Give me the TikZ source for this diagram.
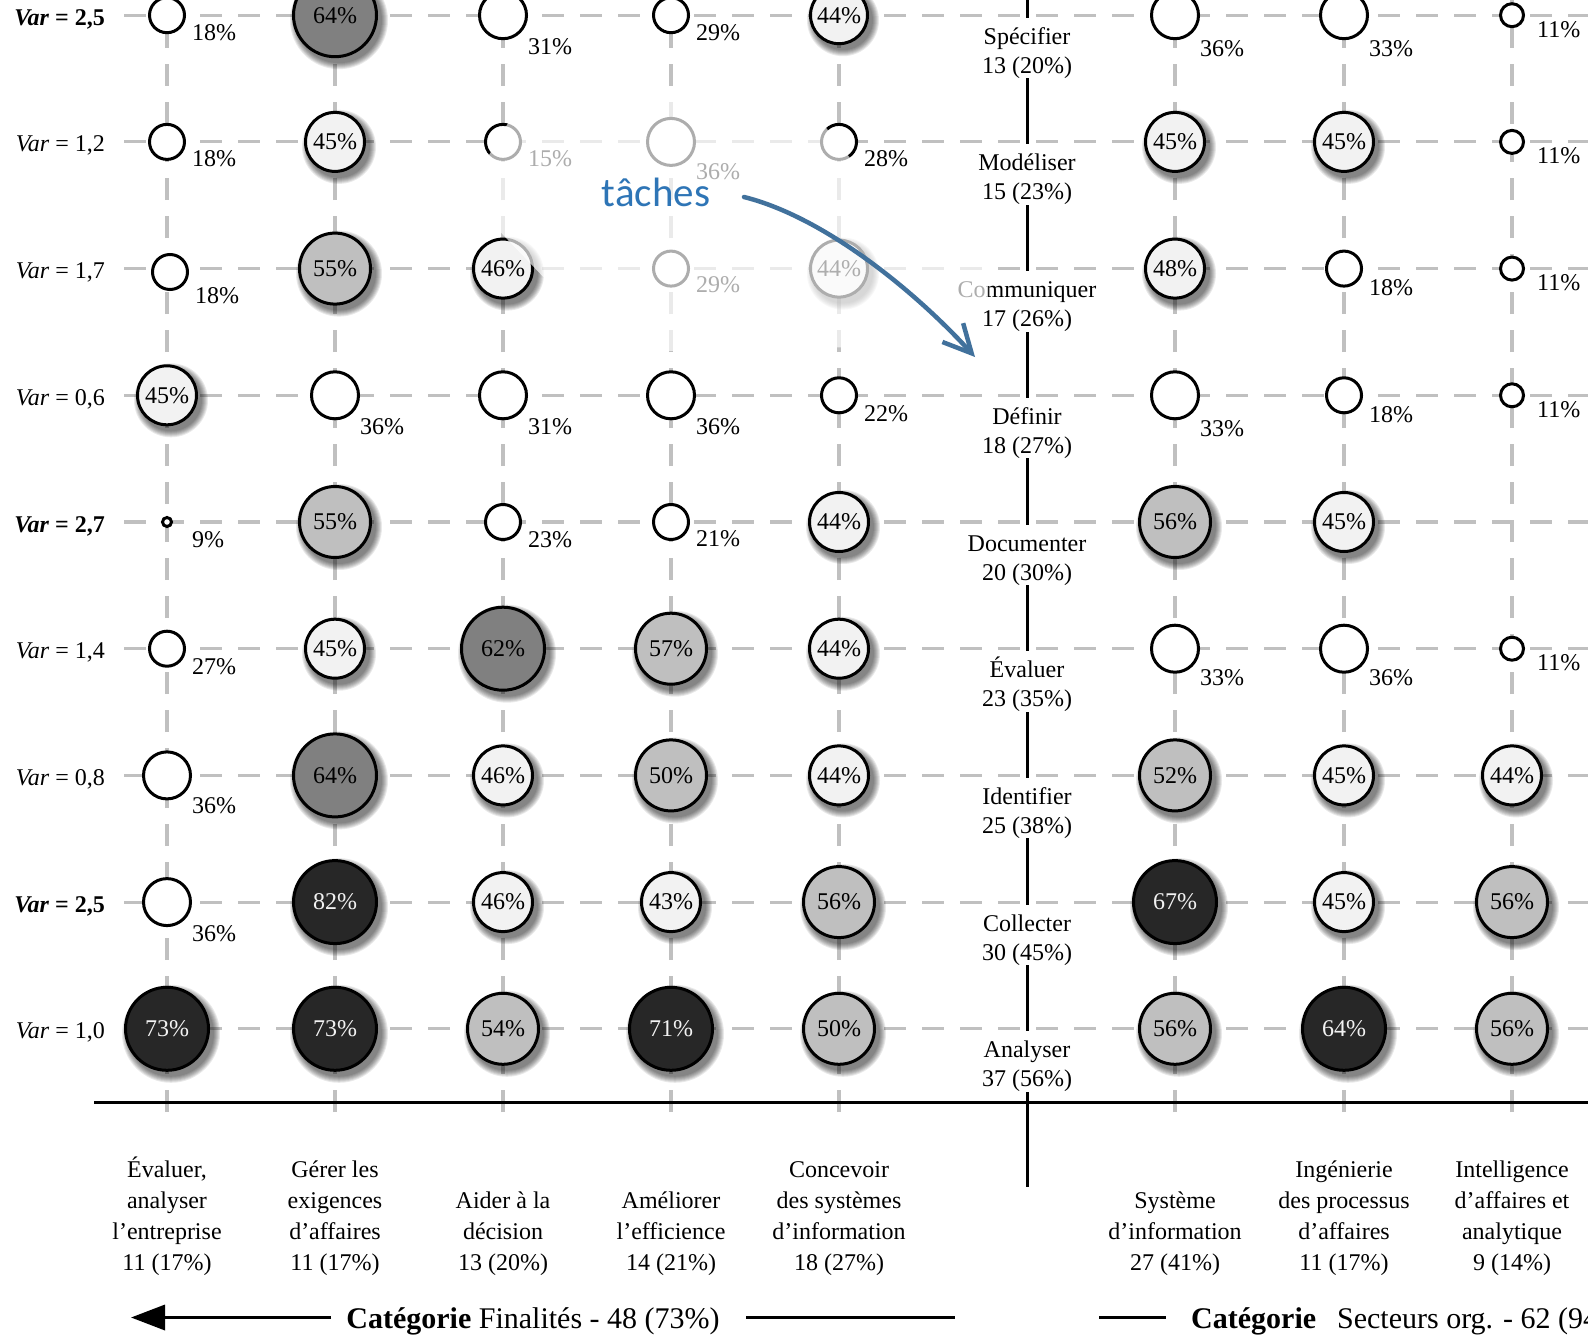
\documentclass[tikz,border=0pt]{standalone}
\usepackage{fontspec}
\setmainfont{Liberation Serif}
\newfontfamily\calibfont{Carlito}
\usetikzlibrary{arrows.meta,calc}
\definecolor{lightf}{HTML}{F2F2F2}
\definecolor{medf}{HTML}{BFBFBF}
\definecolor{darkf}{HTML}{808080}
\definecolor{blackf}{HTML}{272727}
\definecolor{gridc}{HTML}{C0C0C0}
\definecolor{tblue}{HTML}{2E75B6}
\definecolor{ablue}{HTML}{41719C}
\tikzset{
  bub/.style={circle, draw=black, line width=3pt, inner sep=0pt, font=\fontsize{24}{29}\selectfont},
  lbl/.style={inner sep=0pt, font=\fontsize{24}{29}\selectfont},
  catlbl/.style={inner sep=0pt, font=\fontsize{30}{36}\selectfont},
  gridline/.style={draw=gridc, line width=3.2pt, dash pattern=on 22pt off 16pt},
  axisline/.style={line width=3pt, black},
  catline/.style={line width=3.5pt, black},
  shadowfill/.style={black, opacity=0.085},
}
% circle with its label inside and a soft shadow
\newcommand{\bubin}[7]{%
  \foreach \k in {1,...,7}{\fill[shadowfill] ({#2+4},{#3+5}) circle[radius={(#4+\k-1)*1pt}];}
  \node[bub, minimum size={(2*#4-3)*1pt}, fill=#5, text=#6] (#1) at (#2,#3) {#7};
}
% plain white circle with its label outside, lower right
\newcommand{\bubout}[6]{%
  \node[bub, minimum size={(2*#4-3)*1pt}, fill=white] (#1) at (#2,#3) {};
  \node[lbl, anchor=base west] (#1-l) at ({#2+25},{#3+#6+8}) {#5};
}
% task label on the central axis
\newcommand{\tasklab}[4]{%
  \fill[white] (942,{#2+2.5}) rectangle (1112,{#2+63});
  \node[lbl, anchor=base] (#1-a) at (1027,{#2+29}) {#3};
  \node[lbl, anchor=base] (#1-b) at (1027,{#2+58}) {#4};
}
\newcommand{\rowlab}[3]{\node[lbl, anchor=base east] (#1) at (105,{#2+10}) {#3};}
\newcommand{\bl}[4]{\node[lbl, anchor=base] (#1) at (#2,#3) {#4};}
\begin{document}
\begin{tikzpicture}[x=1pt,y=-1pt]
\useasboundingbox (0,0) rectangle (1588,1335);
\clip (0,0) rectangle (1588,1335);
\fill[white] (0,0) rectangle (1588,1335);

% grid
\foreach \cx in {167,335,503,671,839,1175,1344,1512}
  \draw[gridline] (\cx,1112) -- (\cx,0);
\foreach \ry in {15.2,141.9,268.6,395.3,522,648.7,775.4,902.1,1028.8}
  \draw[gridline] (124,\ry) -- (1600,\ry);

% axes
\draw[axisline] (94,1102.5) -- (1600,1102.5);
\draw[axisline] (1027,0) -- (1027,1187);

% task labels
\tasklab{t1}{15.2}{Spécifier}{13 (20\%)}
\tasklab{t2}{141.9}{Modéliser}{15 (23\%)}
\tasklab{t3}{268.6}{Communiquer}{17 (26\%)}
\tasklab{t4}{395.3}{Définir}{18 (27\%)}
\tasklab{t5}{522}{Documenter}{20 (30\%)}
\tasklab{t6}{648.7}{Évaluer}{23 (35\%)}
\tasklab{t7}{775.4}{Identifier}{25 (38\%)}
\tasklab{t8}{902.1}{Collecter}{30 (45\%)}
\tasklab{t9}{1028.8}{Analyser}{37 (56\%)}

% row 1
\bubout{a1}{167}{15.2}{19}{18\%}{17}
\bubin{a2}{335}{15.2}{43}{darkf}{black}{64\%}
\bubout{a3}{503}{15.2}{25}{31\%}{31}
\bubout{a4}{671}{15.2}{19}{29\%}{17}
\bubin{a5}{839}{15.2}{30}{lightf}{black}{44\%}
\bubout{a6}{1175}{15.2}{25}{36\%}{33}
\bubout{a7}{1344}{15.2}{25}{33\%}{33}
\bubout{a8}{1512}{15.2}{13}{11\%}{14}
% row 2
\bubout{b1}{167}{141.9}{19}{18\%}{17}
\bubin{b2}{335}{141.9}{31}{lightf}{black}{45\%}
\bubout{b3}{503}{141.9}{19}{15\%}{17}
\bubout{b4}{671}{141.9}{25}{36\%}{30}
\bubout{b5}{839}{141.9}{19}{28\%}{17}
\bubin{b6}{1175}{141.9}{31}{lightf}{black}{45\%}
\bubin{b7}{1344}{141.9}{31}{lightf}{black}{45\%}
\bubout{b8}{1512}{141.9}{13}{11\%}{14}
% row 3
\bubout{c1}{170}{272}{19}{18\%}{23}
\bubin{c2}{335}{268.6}{37}{medf}{black}{55\%}
\bubin{c3}{503}{268.6}{31}{lightf}{black}{46\%}
\bubout{c4}{671}{268.6}{19}{29\%}{16}
\bubin{c5}{839}{268.6}{30}{lightf}{black}{44\%}
\bubin{c6}{1175}{268.6}{31}{lightf}{black}{48\%}
\bubout{c7}{1344}{268.6}{19}{18\%}{19}
\bubout{c8}{1512}{268.6}{13}{11\%}{14}
% row 4
\bubin{d1}{167}{395.3}{31}{lightf}{black}{45\%}
\bubout{d2}{335}{395.3}{25}{36\%}{31}
\bubout{d3}{503}{395.3}{25}{31\%}{31}
\bubout{d4}{671}{395.3}{25}{36\%}{31}
\bubout{d5}{839}{395.3}{19}{22\%}{18}
\bubout{d6}{1175}{395.3}{25}{33\%}{33}
\bubout{d7}{1344}{395.3}{19}{18\%}{19}
\bubout{d8}{1512}{395.3}{13}{11\%}{14}
% row 5
\bubout{e1}{167}{522}{6}{9\%}{17}
\bubin{e2}{335}{522}{37}{medf}{black}{55\%}
\bubout{e3}{503}{522}{19}{23\%}{17}
\bubout{e4}{671}{522}{19}{21\%}{16}
\bubin{e5}{839}{522}{31}{lightf}{black}{44\%}
\bubin{e6}{1175}{522}{37}{medf}{black}{56\%}
\bubin{e7}{1344}{522}{31}{lightf}{black}{45\%}
% row 6
\bubout{f1}{167}{648.7}{19}{27\%}{18}
\bubin{f2}{335}{648.7}{31}{lightf}{black}{45\%}
\bubin{f3}{503}{648.7}{43}{darkf}{black}{62\%}
\bubin{f4}{671}{648.7}{37}{medf}{black}{57\%}
\bubin{f5}{839}{648.7}{31}{lightf}{black}{44\%}
\bubout{f6}{1175}{648.7}{25}{33\%}{29}
\bubout{f7}{1344}{648.7}{25}{36\%}{29}
\bubout{f8}{1512}{648.7}{13}{11\%}{14}
% row 7
\bubout{g1}{167}{775.4}{25}{36\%}{30}
\bubin{g2}{335}{775.4}{43}{darkf}{black}{64\%}
\bubin{g3}{503}{775.4}{31}{lightf}{black}{46\%}
\bubin{g4}{671}{775.4}{37}{medf}{black}{50\%}
\bubin{g5}{839}{775.4}{31}{lightf}{black}{44\%}
\bubin{g6}{1175}{775.4}{37}{medf}{black}{52\%}
\bubin{g7}{1344}{775.4}{31}{lightf}{black}{45\%}
\bubin{g8}{1512}{775.4}{31}{lightf}{black}{44\%}
% row 8
\bubout{h1}{167}{902.1}{25}{36\%}{31}
\bubin{h2}{335}{902.1}{43}{blackf}{lightf}{82\%}
\bubin{h3}{503}{902.1}{31}{lightf}{black}{46\%}
\bubin{h4}{671}{902.1}{31}{lightf}{black}{43\%}
\bubin{h5}{839}{902.1}{37}{medf}{black}{56\%}
\bubin{h6}{1175}{902.1}{43}{blackf}{lightf}{67\%}
\bubin{h7}{1344}{902.1}{31}{lightf}{black}{45\%}
\bubin{h8}{1512}{902.1}{37}{medf}{black}{56\%}
% row 9
\bubin{i1}{167}{1028.8}{43}{blackf}{lightf}{73\%}
\bubin{i2}{335}{1028.8}{43}{blackf}{lightf}{73\%}
\bubin{i3}{503}{1028.8}{37}{medf}{black}{54\%}
\bubin{i4}{671}{1028.8}{43}{blackf}{lightf}{71\%}
\bubin{i5}{839}{1028.8}{37}{medf}{black}{50\%}
\bubin{i6}{1175}{1028.8}{37}{medf}{black}{56\%}
\bubin{i7}{1344}{1028.8}{43}{blackf}{lightf}{64\%}
\bubin{i8}{1512}{1028.8}{37}{medf}{black}{56\%}

% row labels
\rowlab{v1}{15.2}{\textbf{\textit{Var} = 2,5}}
\rowlab{v2}{141.9}{\textit{Var} = 1,2}
\rowlab{v3}{268.6}{\textit{Var} = 1,7}
\rowlab{v4}{395.3}{\textit{Var} = 0,6}
\rowlab{v5}{522}{\textbf{\textit{Var} = 2,7}}
\rowlab{v6}{648.7}{\textit{Var} = 1,4}
\rowlab{v7}{775.4}{\textit{Var} = 0,8}
\rowlab{v8}{902.1}{\textbf{\textit{Var} = 2,5}}
\rowlab{v9}{1028.8}{\textit{Var} = 1,0}

% column labels
\bl{k1a}{167}{1177}{Évaluer,}
\bl{k1b}{167}{1208}{analyser}
\bl{k1c}{167}{1239}{l’entreprise}
\bl{k1d}{167}{1270}{11 (17\%)}
\bl{k2a}{335}{1177}{Gérer les}
\bl{k2b}{335}{1208}{exigences}
\bl{k2c}{335}{1239}{d’affaires}
\bl{k2d}{335}{1270}{11 (17\%)}
\bl{k3b}{503}{1208}{Aider à la}
\bl{k3c}{503}{1239}{décision}
\bl{k3d}{503}{1270}{13 (20\%)}
\bl{k4b}{671}{1208}{Améliorer}
\bl{k4c}{671}{1239}{l’efficience}
\bl{k4d}{671}{1270}{14 (21\%)}
\bl{k5a}{839}{1177}{Concevoir}
\bl{k5b}{839}{1208}{des systèmes}
\bl{k5c}{839}{1239}{d’information}
\bl{k5d}{839}{1270}{18 (27\%)}
\bl{k6b}{1175}{1208}{Système}
\bl{k6c}{1175}{1239}{d’information}
\bl{k6d}{1175}{1270}{27 (41\%)}
\bl{k7a}{1344}{1177}{Ingénierie}
\bl{k7b}{1344}{1208}{des processus}
\bl{k7c}{1344}{1239}{d’affaires}
\bl{k7d}{1344}{1270}{11 (17\%)}
\bl{k8a}{1512}{1177}{Intelligence}
\bl{k8b}{1512}{1208}{d’affaires et}
\bl{k8c}{1512}{1239}{analytique}
\bl{k8d}{1512}{1270}{9 (14\%)}

% categories
\node[catlbl, anchor=base] (catL) at (533,1328) {\textbf{Catégorie} Finalités - 48 (73\%)};
\coordinate (catLa) at (331,1317.5);
\coordinate (catLb) at (131,1317.5);
\coordinate (catLc) at (746,1317.5);
\coordinate (catLd) at (955,1317.5);
\draw[catline, -{Triangle[length=34pt,width=25pt]}] (catLa) -- (catLb);
\draw[catline] (catLc) -- (catLd);
\node[catlbl, anchor=base west] (catR) at (1191,1328) {\textbf{Catégorie}\hspace{0.45em} Secteurs org. - 62 (94\%)};
\coordinate (catRa) at (1099,1317.5);
\coordinate (catRb) at (1166,1317.5);
\draw[catline] (catRa) -- (catRb);

% faded overlay
\fill[white, opacity=0.68] (465,195) -- (525,95) -- (800,95) -- (858,168) -- (988,262) -- (988,298) -- (955,345) -- (615,352) -- cycle;

% annotation
\node[inner sep=0pt, anchor=base, text=tblue, font=\calibfont\fontsize{41}{48}\selectfont] (taches) at (656,206.5) {tâches};
\coordinate (arrS) at (744,197);
\coordinate (arrE) at (975,357);
\draw[ablue, line width=4.5pt, line cap=round, -{Straight Barb[length=28pt,width=28pt]}] (arrS) .. controls (824,217) and (915,291) .. (arrE);
\end{tikzpicture}
\end{document}
